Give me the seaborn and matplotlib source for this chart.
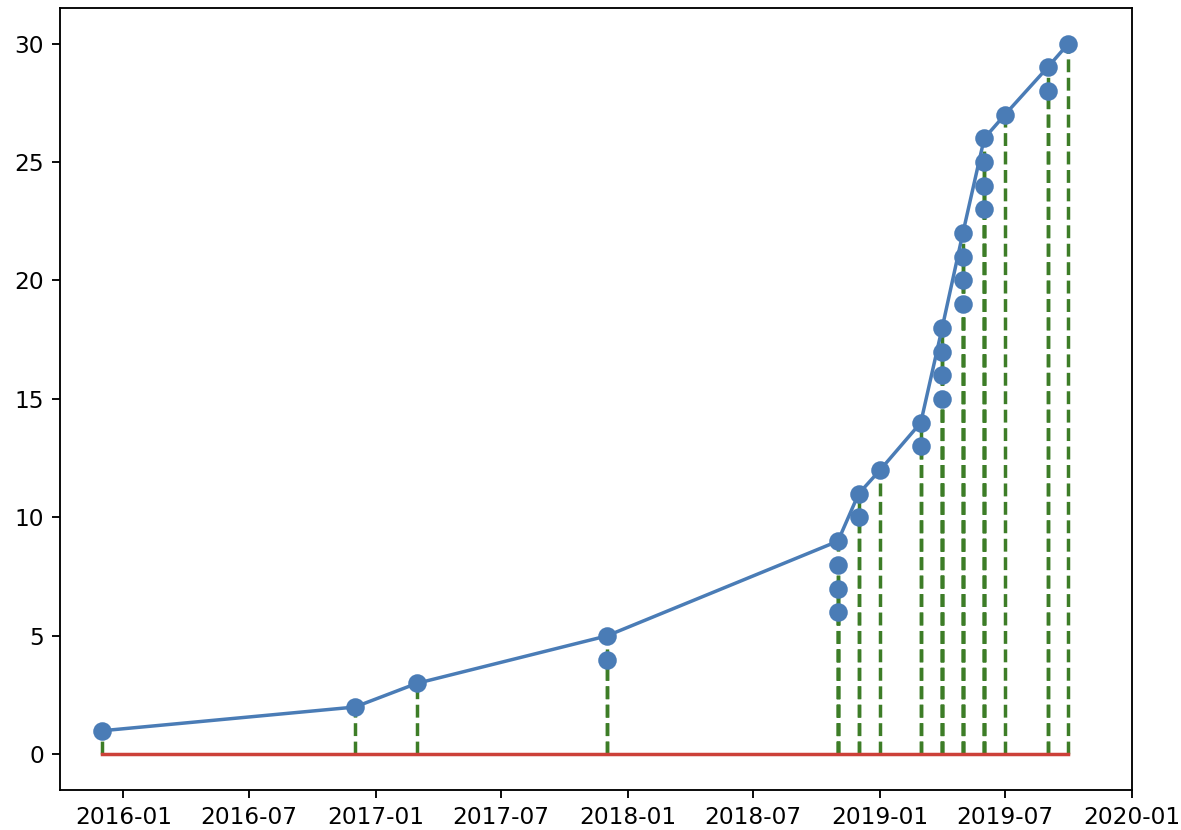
import matplotlib
matplotlib.use("Agg")
import matplotlib.pyplot as plt
import matplotlib.dates as mdates
import numpy as np
import pandas as pd
import seaborn as sns

# Release dates (one entry per item) and the running total at each item
dates = [
    "2015-12-01",
    "2016-12-01",
    "2017-03-01",
    "2017-12-01", "2017-12-01",
    "2018-11-01", "2018-11-01", "2018-11-01", "2018-11-01",
    "2018-12-01", "2018-12-01",
    "2019-01-01",
    "2019-03-01", "2019-03-01",
    "2019-04-01", "2019-04-01", "2019-04-01", "2019-04-01",
    "2019-05-01", "2019-05-01", "2019-05-01", "2019-05-01",
    "2019-06-01", "2019-06-01", "2019-06-01", "2019-06-01",
    "2019-07-01",
    "2019-09-01", "2019-09-01",
    "2019-10-01",
]
counts = [
    1,
    2,
    3,
    4, 5,
    6, 7, 8, 9,
    10, 11,
    12,
    13, 14,
    15, 16, 17, 18,
    19, 20, 21, 22,
    23, 24, 25, 26,
    27,
    28, 29,
    30,
]

df = pd.DataFrame({"date": pd.to_datetime(dates), "count": counts})

BLUE = "#4a7cb6"
GREEN = "#3d7d27"
RED = "#cc4038"

DPI = 167
fig = plt.figure(figsize=(1181 / DPI, 830 / DPI), dpi=DPI)
ax = fig.add_axes([0.0508, 0.0482, 0.9077, 0.9422])

# Stems with a marker for every item
markerline, stemlines, baseline = ax.stem(
    df["date"], df["count"], linefmt="--", markerfmt="o", basefmt="-"
)
markerline.set_color(BLUE)
markerline.set_markersize(7)
stemlines.set_color(GREEN)
stemlines.set_linewidth(1.5)
baseline.set_color(RED)
baseline.set_linewidth(1.5)

# Line through the highest total reached on each date
sns.lineplot(data=df, x="date", y="count", estimator="max", errorbar=None,
             color=BLUE, linewidth=1.5, ax=ax)

ax.set_xlim(pd.Timestamp("2015-10-01"), pd.Timestamp("2020-01-01"))
ax.xaxis.set_major_locator(mdates.MonthLocator(bymonth=[1, 7]))
ax.xaxis.set_major_formatter(mdates.DateFormatter("%Y-%m"))
ax.set_yticks([0, 5, 10, 15, 20, 25, 30])
ax.set_xlabel("")
ax.set_ylabel("")

fig.savefig("out.png", dpi=DPI)
